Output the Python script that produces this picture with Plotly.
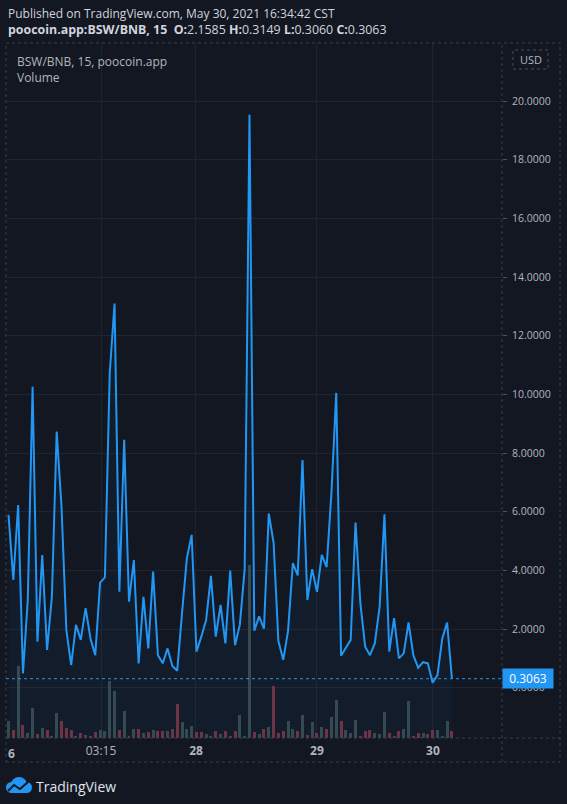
import plotly.graph_objects as go

# ---------------- data ----------------
price = [5.89, 3.67, 6.23, 0.49, 3.0, 10.26, 1.57, 4.52, 1.29, 3.10,
         8.73, 6.17, 1.97, 0.77, 2.14, 1.63, 2.71, 1.68, 1.11, 3.58,
         3.76, 10.72, 13.1, 3.27, 8.45, 2.93, 4.35, 0.83, 3.10, 1.34,
         3.96, 1.11, 0.83, 1.34, 0.74, 0.58, 2.54, 4.41, 5.21, 1.23,
         1.74, 2.31, 3.81, 1.74, 2.82, 1.51, 3.99, 1.45, 2.15, 4.04,
         19.53, 1.94, 2.43, 2.01, 5.94, 4.95, 1.59, 0.95, 1.94, 4.25,
         3.83, 7.76, 2.99, 4.04, 3.27, 4.53, 4.11, 6.64, 10.05, 1.09,
         1.36, 1.63, 5.63, 2.88, 1.40, 1.11, 1.51, 2.76, 5.91, 1.23,
         2.37, 1.00, 1.17, 2.23, 1.11, 0.68, 0.87, 0.83, 0.17, 0.43,
         1.68, 2.22, 0.3063]

volume = [16.7, 7.7, 72.3, 13.3, 5, 30, 4.3, 10, 7.7, 2.3,
          25, 16.7, 10, 7.7, 2.3, 5, 3.3, 2.3, 5.7, 7.7,
          6.7, 57.3, 46.7, 8.3, 26.7, 2.3, 9.3, 9, 5, 5.7,
          7.7, 6.7, 7.3, 6.7, 9.3, 34.3, 15.7, 9, 12.3, 6,
          6, 4, 2.3, 7.3, 4.3, 7.3, 2.3, 7.3, 23.3, 2.3,
          173, 6, 4, 9.3, 11, 52.3, 5, 7.3, 17.3, 9,
          7.3, 23.3, 3.3, 16, 5, 11, 9.3, 21, 38.3, 16.7,
          8.3, 5, 18.3, 2.3, 6.7, 7.7, 5, 4.3, 25.7, 5,
          2.3, 7.3, 9.3, 36.7, 2.3, 5, 5, 4.3, 8.3, 8.3,
          2.3, 16.7, 7.3]

# 'u' = up bar (grey-teal), 'd' = down bar (red)
direction = list("ududuududu" + "udddududdu" + "uuudududud" + "uddudduuud"
                 + "duudududuu" + "udududdduu" + "dudududuud" + "uuuddduuud"
                 + "uduudduddu" + "uud")

time_ticks = [19.19, 38.9, 64.0, 88.07]
time_labels = ["03:15", "<b>28</b>", "<b>29</b>", "<b>30</b>"]
price_ticks = [0, 2, 4, 6, 8, 10, 12, 14, 16, 18, 20]
last_price = 0.3063

# ---------------- styling ----------------
BG = "#131722"
GRID = "#1f2431"
BORDER = "#3a3e4a"
TXT = "#b2b5be"
BLUE = "#2196f3"
FONT = "Open Sans"

W, H = 567, 804
L, R, T, B = 6, 65, 43, 66
PW, PH = W - L - R, H - T - B


def px(xp):
    return (xp - L) / PW


def py(yp):
    return (H - B - yp) / PH


n = len(price)
idx = list(range(n))
PMIN, PMAX = -1.715, 21.98
bar_colors = ["#37494b" if d == "u" else "#74303f" for d in direction]

fig = go.Figure()
fig.add_trace(go.Bar(x=idx, y=volume, marker_color=bar_colors, marker_line_width=0,
                     width=0.62, yaxis="y", hoverinfo="skip"))
fig.add_trace(go.Scatter(x=idx, y=[PMIN] * n, yaxis="y2", mode="lines",
                         line=dict(width=0), hoverinfo="skip"))
fig.add_trace(go.Scatter(x=idx, y=price, yaxis="y2", mode="lines",
                         line=dict(color=BLUE, width=2),
                         fill="tonexty", fillcolor="rgba(33,150,243,0.045)"))

shapes = [
    dict(type="rect", xref="paper", yref="paper", x0=0, x1=px(560), y0=py(762), y1=1,
         line=dict(color=BORDER, width=1, dash="dot")),
    dict(type="line", xref="paper", yref="paper", x0=1, x1=1, y0=py(762), y1=1,
         line=dict(color=BORDER, width=1, dash="dot")),
    dict(type="line", xref="paper", yref="paper", x0=0, x1=px(560), y0=0, y1=0,
         line=dict(color=BORDER, width=1, dash="dot")),
    dict(type="line", xref="paper", yref="y2", x0=0, x1=1, y0=last_price, y1=last_price,
         line=dict(color=BLUE, width=1, dash="dot")),
    dict(type="rect", xref="paper", yref="paper", x0=px(513), x1=px(548), y0=py(69), y1=py(50),
         line=dict(color="#4a4e59", width=1, dash="dot")),
    # TradingView logo (cloud)
    dict(type="circle", xref="paper", yref="paper", fillcolor=BLUE, line_width=0,
         x0=px(6), x1=px(17), y0=py(793), y1=py(782)),
    dict(type="circle", xref="paper", yref="paper", fillcolor=BLUE, line_width=0,
         x0=px(11), x1=px(27), y0=py(792), y1=py(777)),
    dict(type="circle", xref="paper", yref="paper", fillcolor=BLUE, line_width=0,
         x0=px(21), x1=px(32), y0=py(793), y1=py(782)),
    dict(type="rect", xref="paper", yref="paper", fillcolor=BLUE, line_width=0,
         x0=px(11), x1=px(27), y0=py(793), y1=py(786)),
    dict(type="path", xref="paper", yref="paper",
         path=f"M {px(8)} {py(791)} L {px(14)} {py(785)} L {px(20)} {py(789)} L {px(28)} {py(782)}",
         line=dict(color=BG, width=2)),
]

annotations = [
    dict(text="Published on TradingView.com, May 30, 2021 16:34:42 CST",
         x=0, y=py(13.5), xanchor="left", yanchor="middle",
         font=dict(size=12, color="#d1d4dc", family=FONT)),
    dict(text="<b>poocoin.app:BSW/BNB, 15&nbsp;&nbsp;O:</b>2.1585 <b>H:</b>0.3149 "
              "<b>L:</b>0.3060 <b>C:</b>0.3063",
         x=0, y=py(29.3), xanchor="left", yanchor="middle",
         font=dict(size=12.4, color="#d1d4dc", family=FONT)),
    dict(text="BSW/BNB, 15, poocoin.app", x=px(15), y=py(61), xanchor="left", yanchor="middle",
         font=dict(size=12, color=TXT, family=FONT)),
    dict(text="Volume", x=px(15), y=py(77.7), xanchor="left", yanchor="middle",
         font=dict(size=12, color=TXT, family=FONT)),
    dict(text="<b>6</b>", x=px(11), y=py(753), xanchor="center", yanchor="middle",
         font=dict(size=12, color=TXT, family=FONT)),
    dict(text="USD", x=px(530.5), y=py(59.5), xanchor="center", yanchor="middle",
         font=dict(size=11, color=TXT, family=FONT)),
    dict(text="0.3063", xref="paper", yref="y2", x=1, y=last_price, xanchor="left", yanchor="middle",
         bgcolor=BLUE, width=46, height=15, borderpad=2,
         font=dict(size=12, color="#ffffff", family=FONT)),
    dict(text="TradingView", x=px(34), y=py(786), xanchor="left", yanchor="middle",
         font=dict(size=14, color="#e0e3eb", family=FONT)),
]
for a in annotations:
    a.setdefault("xref", "paper")
    a.setdefault("yref", "paper")
    a["showarrow"] = False

fig.update_layout(
    width=W, height=H,
    paper_bgcolor=BG, plot_bgcolor=BG,
    margin=dict(l=L, r=R, t=T, b=B, autoexpand=False),
    showlegend=False,
    bargap=0,
    xaxis=dict(range=[-0.52, 102.39], tickvals=time_ticks, ticktext=time_labels,
               showgrid=True, gridcolor=GRID, gridwidth=1, zeroline=False, showline=False,
               ticks="", ticklabelstandoff=4,
               tickfont=dict(size=12, color=TXT, family=FONT), fixedrange=True),
    yaxis=dict(range=[0, PH], visible=False, fixedrange=True),
    yaxis2=dict(overlaying="y", side="right", range=[PMIN, PMAX],
                tickvals=price_ticks, tickformat=".4f",
                showgrid=True, gridcolor=GRID, gridwidth=1, zeroline=False, showline=False,
                ticks="outside", ticklen=4, tickcolor="#4c525e", ticklabelstandoff=3,
                tickfont=dict(size=10.5, color=TXT, family=FONT), fixedrange=True),
    shapes=shapes,
    annotations=annotations,
)

fig.write_html("out.html", config={"displayModeBar": False},
               post_script="document.body.style.margin='0';document.body.style.background='#131722';")
